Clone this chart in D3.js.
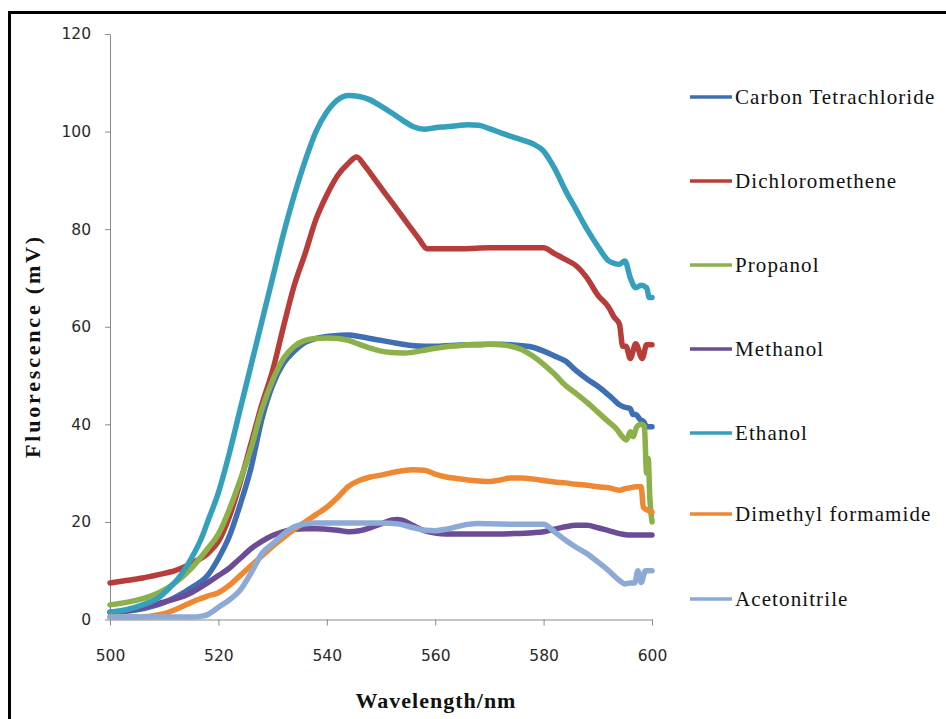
<!DOCTYPE html>
<html>
<head>
<meta charset="utf-8">
<script src="https://cdn.jsdelivr.net/npm/d3@7"></script>
<style>
  html, body { margin: 0; padding: 0; background: #ffffff; }
  svg { display: block; }
</style>
</head>
<body>
<svg id="chart" width="946" height="719"></svg>
<script>
// ---- data ----
const seriesNames = ["Carbon Tetrachloride", "Dichloromethene", "Propanol", "Methanol", "Ethanol", "Dimethyl formamide", "Acetonitrile"];
const seriesColors = ["#3E6EB3", "#B83C3A", "#8CB04A", "#6A4C97", "#35A0BC", "#EE8833", "#8DAAD7"];
const xTicks = [500, 520, 540, 560, 580, 600];
const yTicks = [0, 20, 40, 60, 80, 100, 120];

const carbonWl = [500,505,510,515,518,520,522,524,526,528,530,532,534,536,538,540,542,544,546,548,550,552,554,556,558,560,562,564,566,568,570,572,574,576,578,580,582,584,586,588,590,592,593,594,595,596,596.5,597,597.8,598.5,599,600];
const carbonVal = [1.5,2,3.5,6.5,9,12.5,17,23.5,31,41,48,52.5,55,56.8,57.6,58,58.2,58.3,58,57.6,57.2,56.8,56.4,56.1,56,56,56.1,56.2,56.3,56.3,56.4,56.4,56.3,56.1,55.8,55,54,53,51,49.3,47.8,46,45,44,43.5,43.2,42,42,41,40.5,39.5,39.5];

const dichloroWl = [500,503,506,509,512,515,518,520,522,524,526,528,530,532,534,536,538,540,542,544,545.5,547,549,551,553,555,557,558.5,560,565,570,575,580,582,584,586,588,590,592,593,594,594.6,595.2,596,597,598.2,599,600];
const dichloroVal = [7.5,8,8.5,9.2,10,11.5,13.5,16,21,28,36,44,51,60,68.5,75,82,87,91,93.5,94.8,93,90,87,84,81,78,76,76,76,76.2,76.2,76.2,75,73.8,72.5,70,66.5,64,62,60.5,56,56,53.5,56.5,53.5,56.3,56.3];

const propanolWl = [500,503,506,509,512,515,518,520,522,524,526,528,530,532,534,536,538,540,542,544,546,548,550,552,554,556,558,560,562,564,566,568,570,572,574,576,578,580,582,584,586,588,590,592,593.5,594.5,595.3,596,596.5,597.2,598,598.6,599,599.3,599.6,600];
const propanolVal = [3,3.5,4.3,5.5,7.5,10.5,14.5,17.5,22.5,28.5,35,43,49,53.5,56,57.2,57.6,57.7,57.6,57.2,56.4,55.6,55,54.7,54.6,54.8,55.2,55.6,55.9,56.1,56.3,56.4,56.4,56.3,56,55.3,54,52.3,50.3,48,46.3,44.5,42.5,40.5,39,37.5,36.8,38.5,37.5,39.5,40,39.5,30,33,25,20];

const methanolWl = [500,503,506,509,512,515,518,520,522,524,526,528,530,532,534,536,538,540,542,544,546,548,550,552,553,554,556,558,560,562,566,570,574,578,580,582,584,586,588,590,592,594,596,598,600];
const methanolVal = [1.5,1.8,2.5,3.3,4.2,5.5,7.5,9,10.5,12.5,14.5,16,17.2,18,18.5,18.6,18.6,18.5,18.3,18,18.2,18.8,19.6,20.4,20.5,20.3,19.2,18.2,17.7,17.5,17.5,17.5,17.6,17.8,18,18.5,19,19.3,19.3,18.8,18.2,17.6,17.3,17.3,17.3];

const ethanolWl = [500,503,506,509,511,513,515,517,518,520,522,524,526,528,530,532,534,536,538,540,542,544,546,548,550,552,554,556,558,560,562,564,566,568,570,572,574,576,578,580,582,584,586,588,590,592,593,594,595,596,597,598,599,599.5,600];
const ethanolVal = [1.5,2,3,4.5,6.5,9,12.5,17,20,26,34,43,52,61,70,79,87,94,100,104,106.5,107.4,107.2,106.5,105.2,103.8,102.3,101,100.5,100.8,101,101.2,101.4,101.3,100.6,99.8,99,98.3,97.5,96,92.5,88,84,80,76.5,73.5,73,72.8,73.5,70,68,68.5,68,66,66];

const dmfWl = [500,505,508,510,512,514,516,518,520,522,524,526,528,530,532,534,536,538,540,542,544,546,548,550,552,554,556,558,560,562,564,566,568,570,572,574,576,578,580,582,584,586,588,590,592,594,595,596,597,598,598.4,599,600];
const dmfVal = [0.5,0.5,0.8,1.2,2,3,4,4.8,5.5,7,9,11,13,15,16.8,18.5,20,21.5,23,25,27.3,28.5,29.2,29.6,30.1,30.5,30.7,30.6,29.8,29.2,28.9,28.6,28.4,28.3,28.6,29,29,28.8,28.5,28.2,28,27.7,27.5,27.2,27,26.5,26.8,27,27.2,27.2,23,22.5,22];

const acetoWl = [500,505,510,515,517,518,519,520,522,524,526,527,528,530,532,534,536,538,540,545,550,553,556,558,560,562,564,566,568,570,575,580,582,584,586,588,590,592,594,595,596,596.8,597.4,598,598.8,599.5,600];
const acetoVal = [0.5,0.5,0.5,0.5,0.7,1,1.7,2.5,4,6,9.5,11.5,13.5,15.5,17.5,19,19.6,19.8,19.8,19.8,19.8,19.6,18.8,18.3,18.2,18.5,19,19.5,19.7,19.6,19.5,19.5,18,16.3,14.8,13.5,11.8,10,8,7.3,7.5,7.5,10,7.6,10,10,10];

const seriesWl = [carbonWl, dichloroWl, propanolWl, methanolWl, ethanolWl, dmfWl, acetoWl];
const seriesVal = [carbonVal, dichloroVal, propanolVal, methanolVal, ethanolVal, dmfVal, acetoVal];

// ---- drawing ----
const svg = d3.select("#chart");
const axisColor = "#8a8a8a";

const x = d3.scaleLinear().domain([500, 600]).range([110, 652]);
const y = d3.scaleLinear().domain([0, 120]).range([619.5, 34]);

// frame (top and left black edges)
svg.append("line").attr("x1", 8).attr("x2", 946).attr("y1", 12.5).attr("y2", 12.5)
  .attr("stroke", "#000").attr("stroke-width", 3);
svg.append("line").attr("x1", 9.5).attr("x2", 9.5).attr("y1", 11).attr("y2", 719)
  .attr("stroke", "#000").attr("stroke-width", 3);

// y axis
const yAxis = svg.append("g").attr("transform", "translate(110,0)")
  .call(d3.axisLeft(y).tickValues(yTicks).tickSize(5).tickSizeOuter(0).tickPadding(14));
yAxis.select(".domain").attr("stroke", axisColor);
yAxis.selectAll(".tick line").attr("stroke", axisColor);
yAxis.selectAll(".tick text").attr("font-family", "DejaVu Sans, Verdana, sans-serif")
  .attr("font-size", 15.5).attr("fill", "#2a2a2a");

// x axis
const xAxis = svg.append("g").attr("transform", "translate(0,619.5)")
  .call(d3.axisBottom(x).tickValues(xTicks).tickSize(6).tickSizeOuter(0).tickPadding(24));
xAxis.select(".domain").attr("stroke", axisColor);
xAxis.selectAll(".tick line").attr("stroke", axisColor);
xAxis.selectAll(".tick text").attr("font-family", "DejaVu Sans, Verdana, sans-serif")
  .attr("font-size", 15.5).attr("fill", "#2a2a2a");

// series lines
const line = d3.line().x(d => x(d[0])).y(d => y(d[1])).curve(d3.curveMonotoneX);
seriesNames.forEach((name, i) => {
  const pts = seriesWl[i].map((w, k) => [w, seriesVal[i][k]]);
  svg.append("path").datum(pts)
    .attr("d", line)
    .attr("fill", "none")
    .attr("stroke", seriesColors[i])
    .attr("stroke-width", 5.5)
    .attr("stroke-linejoin", "round")
    .attr("stroke-linecap", "round");
});

// axis titles
svg.append("text")
  .attr("x", 436).attr("y", 708)
  .attr("text-anchor", "middle")
  .attr("font-family", "Liberation Serif, Times New Roman, serif")
  .attr("font-weight", "bold").attr("font-size", 22).attr("letter-spacing", 1)
  .attr("fill", "#111")
  .text("Wavelength/nm");

svg.append("text")
  .attr("transform", "translate(40,346) rotate(-90)")
  .attr("text-anchor", "middle")
  .attr("font-family", "Liberation Serif, Times New Roman, serif")
  .attr("font-weight", "bold").attr("font-size", 22).attr("letter-spacing", 2.8)
  .attr("fill", "#111")
  .text("Fluorescence (mV)");

// legend
const legendY = [97, 181, 265, 349, 433, 514, 599];
const legend = svg.append("g");
seriesNames.forEach((name, i) => {
  legend.append("line")
    .attr("x1", 690).attr("x2", 732)
    .attr("y1", legendY[i]).attr("y2", legendY[i])
    .attr("stroke", seriesColors[i]).attr("stroke-width", 3.5);
  legend.append("text")
    .attr("x", 735).attr("y", legendY[i])
    .attr("dy", "0.33em")
    .attr("font-family", "Liberation Serif, Times New Roman, serif")
    .attr("font-size", 21).attr("letter-spacing", 1.1)
    .attr("fill", "#111")
    .text(name);
});
</script>
</body>
</html>
